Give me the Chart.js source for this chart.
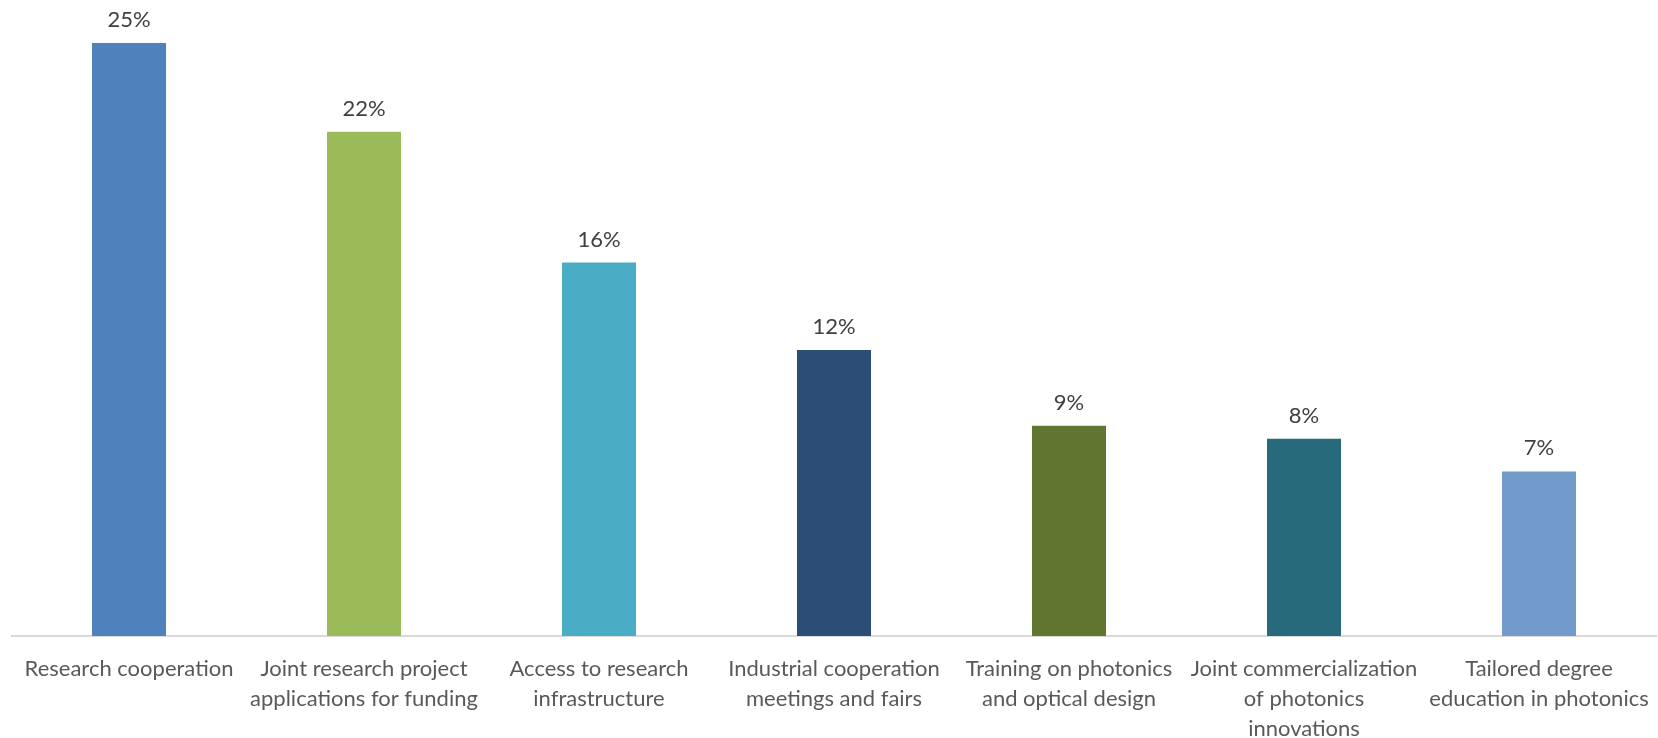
<!DOCTYPE html>
<html>
<head>
<meta charset="utf-8">
<script src="https://cdn.jsdelivr.net/npm/chart.js@4/dist/chart.umd.min.js"></script>
<style>
  body { margin: 0; background: #fff; }
  canvas { display: block; }
</style>
</head>
<body>
<canvas id="chart" width="1658" height="738"></canvas>
<script>
var categories = [
  "Research cooperation",
  ["Joint research project", "applications for funding"],
  ["Access to research", "infrastructure"],
  ["Industrial cooperation", "meetings and fairs"],
  ["Training on photonics", "and optical design"],
  ["Joint commercialization", "of photonics", "innovations"],
  ["Tailored degree", "education in photonics"]
];
var shares = [25.4, 21.6, 16.0, 12.25, 9.0, 8.45, 7.05];
var barColors = ["#4F81BD", "#9BBB59", "#4BACC6", "#2C4D75", "#5F7530", "#276A7C", "#729ACA"];

// value labels above each bar
var barLabels = {
  id: "barLabels",
  afterDatasetsDraw: function(chart) {
    var ctx = chart.ctx;
    var meta = chart.getDatasetMeta(0);
    ctx.save();
    ctx.font = "22px Lato";
    ctx.fillStyle = "#404040";
    ctx.textAlign = "center";
    ctx.textBaseline = "middle";
    meta.data.forEach(function(bar, i) {
      ctx.fillText(Math.round(shares[i]) + "%", bar.x, bar.y - 23);
    });
    ctx.restore();
  }
};

var ctx = document.getElementById("chart").getContext("2d");
var chart = new Chart(ctx, {
  type: "bar",
  data: {
    labels: categories,
    datasets: [{
      data: shares,
      backgroundColor: barColors,
      barPercentage: 0.315,
      categoryPercentage: 1
    }]
  },
  options: {
    responsive: false,
    animation: false,
    layout: { padding: { left: 11.5, right: 1.5, top: 5.6, bottom: 0 } },
    plugins: { legend: { display: false }, tooltip: { enabled: false } },
    scales: {
      x: {
        grid: { display: false, drawTicks: false },
        border: { display: true, color: "#D9D9D9", width: 2 },
        ticks: {
          color: "#595959",
          font: { family: "Lato", size: 22, lineHeight: 1.36 },
          padding: 18,
          autoSkip: false,
          maxRotation: 0
        },
        afterFit: function(scale) {
          scale.height = 102;
          scale.paddingLeft = 0;
          scale.paddingRight = 0;
        }
      },
      y: {
        display: false,
        min: 0,
        max: 27
      }
    }
  },
  plugins: [barLabels]
});
</script>
</body>
</html>
